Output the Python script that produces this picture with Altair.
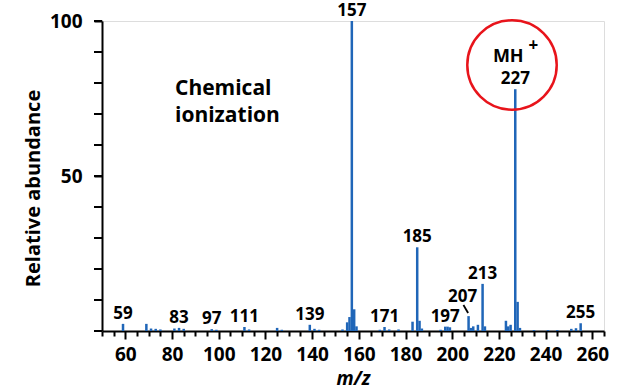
import altair as alt
import pandas as pd

# Chemical-ionization mass spectrum: m/z and relative abundance (%)
mz = [59, 69, 71, 73, 75, 81, 83, 85, 97, 99, 111, 113, 125, 127, 139, 141,
      143, 153, 155, 156, 157, 158, 159, 169, 171, 173, 177, 183, 185, 186,
      187, 195, 197, 198, 199, 207, 208, 209, 211, 213, 214, 223, 224, 225,
      227, 228, 229, 235, 241, 245, 251, 253, 255]
abundance = [2.3, 2.3, 0.8, 0.7, 0.5, 0.8, 1.0, 0.7, 0.6, 0.4, 1.3, 0.5, 1.0,
             0.4, 2.0, 0.7, 0.4, 0.5, 2.8, 4.5, 100, 7.0, 1.5, 0.4, 1.3, 0.5,
             0.5, 3.0, 27, 3.3, 0.8, 0.4, 1.4, 1.4, 1.2, 4.8, 1.0, 1.5, 2.0,
             15.2, 1.5, 3.3, 1.5, 2.0, 78, 9.4, 1.0, 0.3, 0.3, 0.3, 0.7, 0.9,
             2.5]

# peaks that carry an m/z label
labelled = [59, 83, 97, 111, 139, 157, 171, 185, 197, 213, 227, 255]
offset_label = 207  # label set off to the upper left with a leader line

x_tick_values = list(range(50, 266, 5))
y_tick_values = list(range(0, 101, 10))
y_label_values = [50, 100]

FONT = "Open Sans"
BLUE = "#2066b8"

spec = pd.DataFrame({"mz": mz, "ab": abundance})
lab = spec[spec.mz.isin(labelled)].assign(txt=lambda d: d.mz.astype(str))
lab207 = spec[spec.mz == offset_label].assign(txt=lambda d: d.mz.astype(str))
mh = spec[spec.mz == 227]
yticks = pd.DataFrame({"ab": y_tick_values})

x_scale = alt.Scale(domain=[50, 265], nice=False, zero=False)
y_scale = alt.Scale(domain=[0, 100], nice=False)

x_axis = alt.Axis(
    title="m/z", titleFont=FONT, titleFontSize=19, titleFontWeight="bold",
    titleFontStyle="italic", titlePadding=5,
    values=x_tick_values, tickCount=200, format="d",
    labelExpr="datum.value % 20 === 0 ? datum.label : ''",
    labelOverlap=False, labelFlush=False,
    labelFont=FONT, labelFontSize=19, labelFontWeight="bold", labelColor="black",
    labelPadding=6,
    tickSize={"condition": {"test": "datum.value % 20 === 0", "value": 8}, "value": 5},
    tickColor="black", tickWidth=2, domainColor="black", domainWidth=2,
    grid=False,
)
y_axis = alt.Axis(
    title="Relative abundance", titleFont=FONT, titleFontSize=20,
    titleFontWeight="bold", titlePadding=6, titleY=167,
    values=y_label_values, format="d",
    labelOverlap=False, labelFlush=False,
    labelFont=FONT, labelFontSize=19, labelFontWeight="bold", labelColor="black",
    labelPadding=12, tickSize=8, tickColor="black", tickWidth=2,
    domainColor="black", domainWidth=2, grid=False,
)

peaks = alt.Chart(spec).mark_rule(color=BLUE, strokeWidth=2.5).encode(
    x=alt.X("mz:Q", scale=x_scale, axis=x_axis),
    y=alt.Y("ab:Q", scale=y_scale, axis=y_axis),
    y2=alt.datum(0),
)

# tick marks every 10 % on the abundance axis, hanging left of the axis line
y_minor = alt.Chart(yticks).mark_rule(color="black", strokeWidth=2).encode(
    y="ab:Q",
    x=alt.value(-8), x2=alt.value(0),
)

text_style = dict(font=FONT, fontWeight="bold", color="black")

peak_labels = alt.Chart(lab).mark_text(
    baseline="alphabetic", dy=-5, fontSize=17, **text_style
).encode(x="mz:Q", y="ab:Q", text="txt:N")

label207 = alt.Chart(lab207).mark_text(
    baseline="alphabetic", dx=-6, dy=-14, fontSize=17, **text_style
).encode(x="mz:Q", y="ab:Q", text="txt:N")

leader = alt.Chart(lab207).mark_rule(color="black", strokeWidth=1.8).encode(
    x=alt.X("x1:Q"), x2="x2:Q", y="y1:Q", y2="y2:Q"
).transform_calculate(
    x1="datum.mz - 2.2", x2="datum.mz - 0.2",
    y1="datum.ab + 3.6", y2="datum.ab + 1.0",
)

mh_text = alt.Chart(mh).mark_text(
    baseline="alphabetic", dx=-7, dy=-27, fontSize=18, **text_style
).encode(x="mz:Q", y="ab:Q", text=alt.value("MH"))

mh_plus = alt.Chart(mh).mark_text(
    baseline="middle", dx=18, dy=-43, fontSize=17, **text_style
).encode(x="mz:Q", y="ab:Q", text=alt.value("+"))

ring = alt.Chart(mh).mark_point(
    shape="circle", filled=False, color="#e8141b", strokeWidth=2.5,
    size=8000, opacity=1,
).encode(x=alt.value(410), y=alt.value(44))

caption = alt.Chart(mh).mark_text(
    align="left", baseline="alphabetic", fontSize=21, lineBreak="\n",
    lineHeight=27, **text_style
).encode(x=alt.value(73), y=alt.value(74), text=alt.value("Chemical\nionization"))

chart = alt.layer(
    peaks, y_minor, peak_labels, label207, leader, mh_text, mh_plus, ring, caption
).properties(
    width=502, height=310,
    autosize=alt.AutoSizeParams(type="none"),
    padding={"left": 102, "top": 21, "right": 31, "bottom": 60},
).configure_view(stroke=None).configure(background="white")

chart.save("out.html", embed_options={"renderer": "svg", "actions": False})
